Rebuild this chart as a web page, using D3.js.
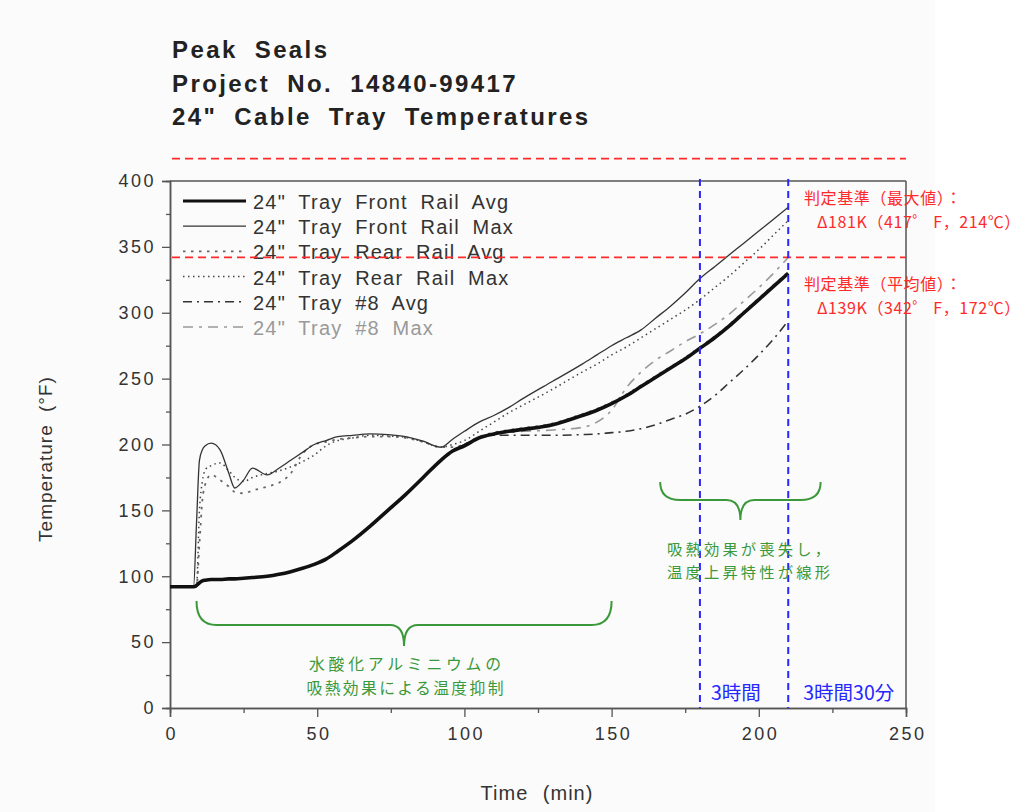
<!DOCTYPE html>
<html>
  <head>
    <meta charset="utf-8" />
    <title>24" Cable Tray Temperatures</title>
    <script src="https://d3js.org/d3.v7.min.js"></script>
    <style>
      body { margin: 0; background: #fff; }
      svg { display: block; }
    </style>
  </head>
  <body>
    <svg id="chart"></svg>
    <script>
      // time grid (min)
      var times = [0, 8, 9, 10, 11, 12, 14, 17, 20, 22, 25, 28, 33, 37, 41, 45, 49, 53, 57, 62, 68, 74, 80, 86, 92, 96, 100, 105, 110, 115, 120, 130, 140, 145, 150, 155, 160, 165, 170, 175, 180, 185, 190, 195, 200, 205, 210];

      // temperatures (F)
      var frontRailAvg = [92, 92, 93, 95, 96.5, 97, 97.5, 97.5, 98, 98, 98.5, 99, 100, 101.5, 103.5, 106, 109, 113, 119, 127, 138, 150, 162, 175, 188, 195, 199, 205, 208, 210, 211.5, 215, 222, 226, 231, 237, 244, 251, 258, 265, 273, 281, 290, 300, 310, 320, 330];
      var frontRailMax = [92, 92, 140, 188, 196, 199, 201, 196, 178, 167, 173, 182, 177, 182, 188, 194, 200, 203, 206, 207, 208, 207.5, 206, 202.5, 198, 204, 210, 217, 222, 228, 235, 248, 261, 268, 275, 281, 287, 296, 305, 315, 326, 335, 344, 353, 362, 371, 380];
      var rearRailAvg = [92, 92, 92, 125, 158, 170, 177, 173, 168, 164, 163, 165, 168, 171, 178, 193, 200, 202, 204, 205, 206, 206, 205, 202, 198, 198, 200, 206, 209, 211, 212.5, 216, 223, 227, 232, 238, 245, 252, 259, 266, 274, 282, 291, 301, 311, 321, 331];
      var rearRailMax = [92, 92, 92, 150, 172, 181, 184, 186, 180, 175, 172, 175, 178, 180, 183, 187, 192, 199, 203, 205, 207, 206.5, 205.5, 202, 198, 200, 203, 210, 217, 224, 230, 242, 255, 261, 268, 274, 281, 288, 295, 302, 310, 319, 328, 338, 348, 359, 370];
      var tray8Avg = [92, 92, 93, 95, 96.5, 97, 97.5, 97.5, 98, 98, 98.5, 99, 100, 101.5, 103.5, 106, 109, 113, 119, 127, 138, 150, 162, 175, 188, 195, 200, 205, 207, 207, 207, 207, 207.5, 208, 209, 210, 212, 215, 219, 223, 229, 237, 247, 257, 268, 280, 294];
      var tray8Max = [92, 92, 93, 95, 96.5, 97, 97.5, 97.5, 98, 98, 98.5, 99, 100, 101.5, 103.5, 106, 109, 113, 119, 127, 138, 150, 162, 175, 188, 195, 200, 206, 208, 209, 210, 211, 213, 217, 226, 243, 255, 264, 271, 278, 284, 291, 299, 309, 319, 330, 342];

      var seriesNames = [
        '24" Tray Front Rail Avg',
        '24" Tray Front Rail Max',
        '24" Tray Rear Rail Avg',
        '24" Tray Rear Rail Max',
        '24" Tray #8 Avg',
        '24" Tray #8 Max'
      ];
      var seriesValues = [frontRailAvg, frontRailMax, rearRailAvg, rearRailMax, tray8Avg, tray8Max];

      var xTicks = [0, 50, 100, 150, 200, 250];
      var yTicks = [0, 50, 100, 150, 200, 250, 300, 350, 400];

      // criteria and time marks
      var criteriaTemps = [417, 342];
      var criteriaLabels = [
        ["判定基準（最大値）：", "Δ181K（417゜ F，214℃）"],
        ["判定基準（平均値）：", "Δ139K（342゜ F，172℃）"]
      ];
      var markTimes = [180, 210];
      var markLabels = ["3時間", "3時間30分"];

      var titleLines = ["Peak Seals", "Project No. 14840-99417", '24" Cable Tray Temperatures'];

      var greenText1 = ["水酸化アルミニウムの", "吸熱効果による温度抑制"];
      var greenText2 = ["吸熱効果が喪失し，", "温度上昇特性が線形"];

      // styles per series
      var styles = [
        { color: "#111", width: 3.6, dash: null },
        { color: "#333", width: 1.3, dash: null },
        { color: "#666", width: 1.8, dash: "2.5,5.5" },
        { color: "#444", width: 1.5, dash: "1.5,3.5" },
        { color: "#333", width: 1.6, dash: "9,5,2,5" },
        { color: "#999", width: 1.6, dash: "10,6,3,6" }
      ];

      var W = 1030, H = 812;
      var svg = d3.select("#chart").attr("width", W).attr("height", H);

      svg.append("rect").attr("width", W).attr("height", H).attr("fill", "#fff");
      svg.append("rect").attr("width", 935).attr("height", H).attr("fill", "#fbfbfb");

      var x = d3.scaleLinear().domain([0, 250]).range([170, 906]);
      var y = d3.scaleLinear().domain([0, 400]).range([708, 181]);

      var latin = "'Liberation Sans', Arial, Helvetica, sans-serif";
      var cjk = "'Noto Sans CJK JP', 'Noto Sans', sans-serif";

      // title
      svg.append("g")
        .selectAll("text")
        .data(titleLines)
        .enter()
        .append("text")
        .attr("x", 172)
        .attr("y", function (d, i) { return 58 + i * 33.5; })
        .attr("font-family", latin)
        .attr("font-weight", "bold")
        .attr("font-size", 24)
        .attr("letter-spacing", 2.4)
        .attr("word-spacing", 8)
        .attr("fill", "#222")
        .text(function (d) { return d; });

      // frame top/right
      svg.append("line")
        .attr("x1", x(0)).attr("x2", x(250))
        .attr("y1", y(400)).attr("y2", y(400))
        .attr("stroke", "#555").attr("stroke-width", 1.5);
      svg.append("line")
        .attr("x1", x(250)).attr("x2", x(250))
        .attr("y1", y(400)).attr("y2", y(0))
        .attr("stroke", "#555").attr("stroke-width", 1.5);

      // axes
      var yAxis = svg.append("g")
        .attr("transform", "translate(" + x(0) + ",0)")
        .call(d3.axisLeft(y).tickValues(yTicks).tickSize(8).tickPadding(6));
      var yMinor = svg.append("g")
        .attr("transform", "translate(" + x(0) + ",0)")
        .call(d3.axisLeft(y).tickValues(d3.range(25, 400, 50)).tickSize(4).tickFormat(""));
      var xAxis = svg.append("g")
        .attr("transform", "translate(0," + y(0) + ")")
        .call(d3.axisBottom(x).tickValues(xTicks).tickSize(9).tickPadding(10));
      var xMinor = svg.append("g")
        .attr("transform", "translate(0," + y(0) + ")")
        .call(d3.axisBottom(x).tickValues(d3.range(25, 250, 50)).tickSize(5).tickFormat(""));

      [yAxis, yMinor, xAxis, xMinor].forEach(function (a) {
        a.select(".domain").attr("stroke", "#555").attr("stroke-width", 1.5);
        a.selectAll(".tick line").attr("stroke", "#555").attr("stroke-width", 1.3);
        a.selectAll("text")
          .attr("font-family", latin)
          .attr("font-size", 18)
          .attr("letter-spacing", 2.5)
          .attr("fill", "#333");
      });
      xAxis.selectAll("text").attr("dx", "1.3");

      // axis titles
      svg.append("text")
        .attr("x", 537).attr("y", 800)
        .attr("text-anchor", "middle")
        .attr("font-family", latin)
        .attr("font-size", 20)
        .attr("letter-spacing", 1)
        .attr("word-spacing", 8)
        .attr("fill", "#333")
        .text("Time (min)");
      svg.append("text")
        .attr("transform", "translate(52,459) rotate(-90)")
        .attr("text-anchor", "middle")
        .attr("font-family", latin)
        .attr("font-size", 19)
        .attr("letter-spacing", 1)
        .attr("word-spacing", 6)
        .attr("fill", "#333")
        .text("Temperature (°F)");

      // series (reverse order so the thick line sits on top)
      var line = d3.line()
        .x(function (d) { return x(d[0]); })
        .y(function (d) { return y(d[1]); })
        .curve(d3.curveMonotoneX);

      var seriesData = seriesValues.map(function (vals) {
        return times.map(function (t, i) { return [t, vals[i]]; });
      });

      svg.append("g")
        .selectAll("path")
        .data(d3.range(seriesData.length).reverse())
        .enter()
        .append("path")
        .attr("d", function (i) { return line(seriesData[i]); })
        .attr("fill", "none")
        .attr("stroke", function (i) { return styles[i].color; })
        .attr("stroke-width", function (i) { return styles[i].width; })
        .attr("stroke-dasharray", function (i) { return styles[i].dash; })
        .attr("stroke-linejoin", "round");

      // legend
      var legend = svg.append("g");
      seriesNames.forEach(function (name, i) {
        var ly = 201 + i * 25.2;
        legend.append("line")
          .attr("x1", 183).attr("x2", 246)
          .attr("y1", ly).attr("y2", ly)
          .attr("stroke", styles[i].color)
          .attr("stroke-width", i === 0 ? 3.2 : styles[i].width)
          .attr("stroke-dasharray", styles[i].dash);
        legend.append("text")
          .attr("x", 253).attr("y", ly + 8)
          .attr("font-family", latin)
          .attr("font-size", 20)
          .attr("letter-spacing", 1.2)
          .attr("word-spacing", 6)
          .attr("fill", i === 5 ? "#999" : "#333")
          .text(name);
      });

      // red criteria lines
      svg.append("g")
        .selectAll("line")
        .data(criteriaTemps)
        .enter()
        .append("line")
        .attr("x1", 172).attr("x2", x(250))
        .attr("y1", function (d) { return y(d); })
        .attr("y2", function (d) { return y(d); })
        .attr("stroke", "#ff2a2a")
        .attr("stroke-width", 1.6)
        .attr("stroke-dasharray", "8,5");

      var critY = [[204, 228], [290, 314]];
      criteriaLabels.forEach(function (pair, i) {
        svg.append("text")
          .attr("x", 804).attr("y", critY[i][0])
          .attr("font-family", cjk).attr("font-size", 16)
          .attr("letter-spacing", 0.6)
          .attr("fill", "#ff2a2a")
          .text(pair[0]);
        svg.append("text")
          .attr("x", 817).attr("y", critY[i][1])
          .attr("font-family", cjk).attr("font-size", 16)
          .attr("letter-spacing", 0.6)
          .attr("fill", "#ff2a2a")
          .text(pair[1]);
      });

      // blue time marks
      svg.append("g")
        .selectAll("line")
        .data(markTimes)
        .enter()
        .append("line")
        .attr("x1", function (d) { return x(d); })
        .attr("x2", function (d) { return x(d); })
        .attr("y1", y(400) - 2).attr("y2", y(0))
        .attr("stroke", "#2626ff")
        .attr("stroke-width", 2)
        .attr("stroke-dasharray", "7,5");
      svg.append("g")
        .selectAll("text")
        .data(markLabels)
        .enter()
        .append("text")
        .attr("x", function (d, i) { return x(markTimes[i]) + (i === 0 ? 11 : 15); })
        .attr("y", 700)
        .attr("font-family", cjk).attr("font-size", 19.5)
        .attr("fill", "#2626ff")
        .text(function (d) { return d; });

      // green braces
      function brace(x1, x2, yTop, yMid, yTip) {
        var xm = (x1 + x2) / 2;
        return "M" + x1 + "," + yTop +
          " Q" + x1 + "," + yMid + " " + (x1 + 20) + "," + yMid +
          " L" + (xm - 14) + "," + yMid +
          " Q" + xm + "," + yMid + " " + xm + "," + yTip +
          " Q" + xm + "," + yMid + " " + (xm + 14) + "," + yMid +
          " L" + (x2 - 20) + "," + yMid +
          " Q" + x2 + "," + yMid + " " + x2 + "," + yTop;
      }
      var green = "#3a993a";
      svg.append("path")
        .attr("d", brace(x(9), x(150), 601, 625, 646))
        .attr("fill", "none").attr("stroke", green).attr("stroke-width", 2);
      svg.append("path")
        .attr("d", brace(x(166.5), x(221), 482, 500, 520))
        .attr("fill", "none").attr("stroke", green).attr("stroke-width", 2);

      var g1Len = [192, 197];
      svg.append("g")
        .selectAll("text")
        .data(greenText1)
        .enter()
        .append("text")
        .attr("x", function (d, i) { return 405 - g1Len[i] / 2; })
        .attr("y", function (d, i) { return 670 + i * 23.5; })
        .attr("textLength", function (d, i) { return g1Len[i]; })
        .attr("lengthAdjust", "spacing")
        .attr("font-family", cjk).attr("font-size", 15.8)
        .attr("fill", green)
        .text(function (d) { return d; });
      svg.append("g")
        .selectAll("text")
        .data(greenText2)
        .enter()
        .append("text")
        .attr("x", 667)
        .attr("y", function (d, i) { return 555 + i * 22.5; })
        .attr("textLength", 163)
        .attr("lengthAdjust", "spacing")
        .attr("font-family", cjk).attr("font-size", 15.3)
        .attr("fill", green)
        .text(function (d) { return d; });
    </script>
  </body>
</html>
